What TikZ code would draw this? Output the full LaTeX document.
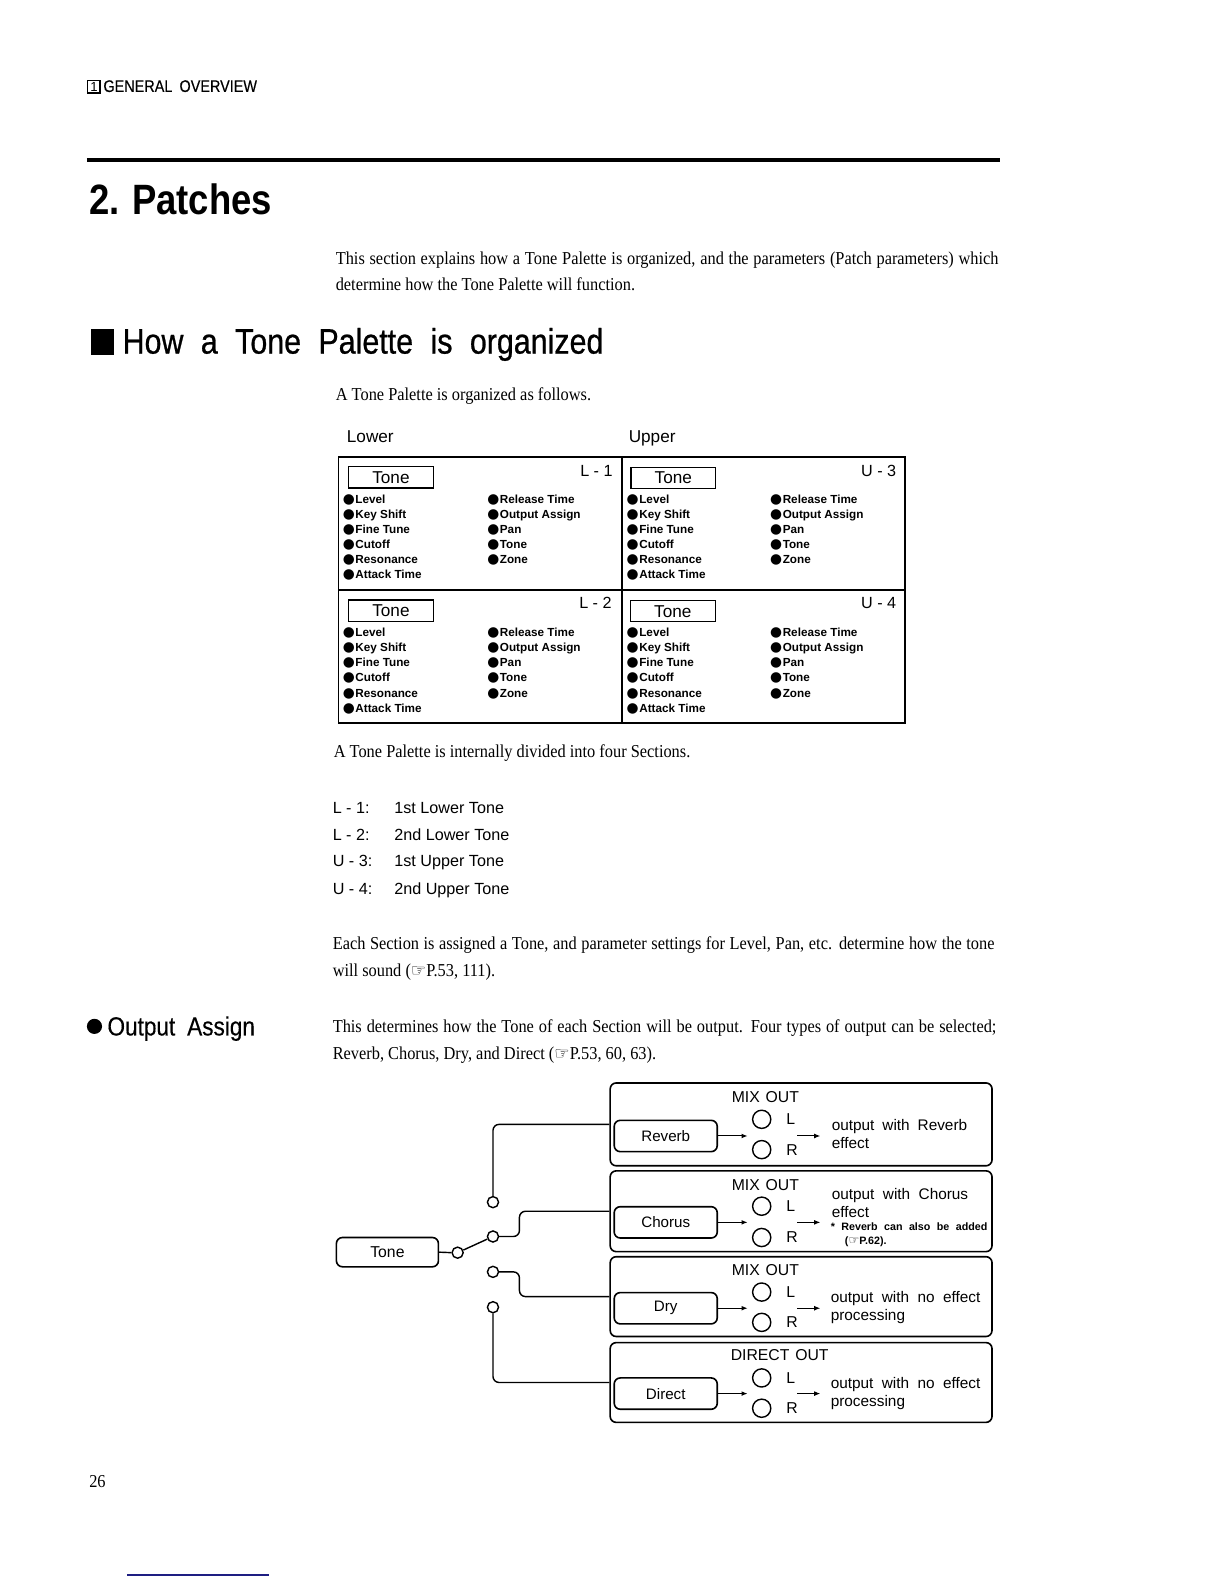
\documentclass[tikz,border=0pt]{standalone}
\usepackage{fontspec}
\setmainfont{Liberation Serif}[FakeStretch=0.9]
\newfontfamily\hel{Liberation Sans}
\newfontfamily\helc{Liberation Sans}[FakeStretch=0.86]
\newfontfamily\helm{Liberation Sans}[FakeStretch=0.86,FakeBold=0.7]
\newfontfamily\helo{Liberation Sans}[FakeStretch=0.86,FakeBold=0.3]
\newfontfamily\djv{DejaVu Sans}
\usetikzlibrary{arrows.meta}
\definecolor{navyline}{RGB}{30,30,130}
\newcommand\fitw[2]{\makebox[\dimexpr #1pt/2\relax][s]{#2}}
\newcommand\bul{{\djv\fontsize{6.8}{7}\selectfont ●}\kern0.3pt}
\newcommand\hand{{\djv\fontsize{8.5}{9}\selectfont ☞}}
\begin{document}
\begin{tikzpicture}[x=0.5pt,y=-0.5pt,
  txt/.style={inner sep=0pt,anchor=base west},
  body/.style={txt,font=\fontsize{9}{11}\selectfont},
  sans/.style={txt,font=\hel\fontsize{8}{10}\selectfont},
  item/.style={txt,font=\hel\bfseries\fontsize{5.8}{7}\selectfont},
  gbox/.style={draw,line width=0.7pt,minimum width=42pt,minimum height=10.5pt,inner sep=0pt,font=\hel\fontsize{8.5}{10}\selectfont},
  outbox/.style={draw,line width=0.8pt,rounded corners=3pt,minimum width=189pt,inner sep=0pt},
  inbox/.style={draw,line width=0.8pt,rounded corners=3pt,minimum width=51pt,minimum height=15.5pt,inner sep=0pt,font=\hel\fontsize{7.5}{9}\selectfont},
  jack/.style={draw,circle,line width=0.7pt,minimum size=9pt,inner sep=0pt},
  contact/.style={draw,circle,line width=0.7pt,minimum size=5.5pt,inner sep=0pt,fill=white},
  wire/.style={line width=0.7pt,rounded corners=3pt},
  sig/.style={line width=0.5pt,-{Latex[length=3pt,width=2.4pt]}},
  small/.style={txt,font=\hel\fontsize{7.6}{9}\selectfont},
]
\useasboundingbox (0,0) rectangle (1212,1568);

% header
\node[draw,line width=0.6pt,minimum size=6pt,inner sep=0pt,font=\hel\fontsize{6.5}{7}\selectfont] (hbox) at (93,86) {1};
\node[txt,font=\helo\fontsize{8.3}{10}\selectfont] (hdr) at (102,91) {\fitw{152}{GENERAL \ OVERVIEW}};
\draw[line width=2pt] (86,158) -- (990,158);

% titles
\node[txt,font=\helc\bfseries\fontsize{21}{24}\selectfont] (title) at (88,212) {\fitw{178}{2. Patches}};
\node[body] (p1a) at (332,262) {\fitw{656}{This section explains how a Tone Palette is organized, and the parameters (Patch parameters) which}};
\node[body] (p1b) at (332,288) {determine how the Tone Palette will function.};
\fill (90,326) rectangle (113,351);
\node[txt,font=\helm\fontsize{17.5}{20}\selectfont] (h2) at (121,350) {\fitw{476}{How a Tone Palette is organized}};
\node[body] (p2) at (332,396) {A Tone Palette is organized as follows.};

% tone palette grid
\node[txt,font=\hel\fontsize{8.5}{10}\selectfont] (lower) at (343,438) {Lower};
\node[txt,font=\hel\fontsize{8.5}{10}\selectfont] (upper) at (622,438) {Upper};
\draw[line width=0.9pt] (335,452) rectangle (896,716);
\draw[line width=0.8pt] (616,452) -- (616,716);
\draw[line width=0.8pt] (335,584) -- (896,584);

\node[gbox] (tL1) at (387,472.5) {Tone};
\node[gbox] (tU3) at (666.5,473) {Tone};
\node[gbox] (tL2) at (387,604.5) {Tone};
\node[gbox] (tU4) at (666,605) {Tone};
\node[txt,anchor=west,font=\hel\fontsize{8}{10}\selectfont] (nL1) at (574,466) {L - 1};
\node[txt,anchor=west,font=\hel\fontsize{8}{10}\selectfont] (nU3) at (852,466) {U - 3};
\node[txt,anchor=west,font=\hel\fontsize{8}{10}\selectfont] (nL2) at (573,597) {L - 2};
\node[txt,anchor=west,font=\hel\fontsize{8}{10}\selectfont] (nU4) at (852,597) {U - 4};

\foreach \s/\xl/\xr/\yt in {L1/339/482/495, U3/620/762/495, L2/339/482/627, U4/620/762/627}{
  \foreach \t [count=\i] in {Level,Key Shift,Fine Tune,Cutoff,Resonance,Attack Time}
    \node[item] (\s-l\i) at (\xl,\yt+15*\i-12) {\bul\t};
  \foreach \t [count=\i] in {Release Time,Output Assign,Pan,Tone,Zone}
    \node[item] (\s-r\i) at (\xr,\yt+15*\i-12) {\bul\t};
}

\node[body] (p3) at (330,750) {A Tone Palette is internally divided into four Sections.};

% list
\foreach \a/\b/\yy [count=\i] in {L - 1:/1st Lower Tone/805, L - 2:/2nd Lower Tone/832, U - 3:/1st Upper Tone/858, U - 4:/2nd Upper Tone/885}{
  \node[sans] (la\i) at (329,\yy) {\a};
  \node[sans] (lb\i) at (390,\yy) {\b};
}

\node[body] (p4a) at (329,940) {\fitw{655}{Each Section is assigned a Tone, and parameter settings for Level, Pan, etc. determine how the tone}};
\node[body] (p4b) at (329,967) {will sound (\hand P.53, 111).};

% output assign
\fill (93.5,1016) circle (7.5);
\node[txt,font=\helo\fontsize{13}{15}\selectfont] (oa) at (106,1025) {\fitw{146}{Output Assign}};
\node[body] (p5a) at (329,1022) {\fitw{657}{This determines how the Tone of each Section will be output. Four types of output can be selected;}};
\node[body] (p5b) at (329,1049) {Reverb, Chorus, Dry, and Direct (\hand P.53, 60, 63).};

% output boxes
\node[outbox,minimum height=41pt] (ob1) at (793,1113) {};
\node[outbox,minimum height=40pt] (ob2) at (793,1199) {};
\node[outbox,minimum height=39.5pt] (ob3) at (793,1283.5) {};
\node[outbox,minimum height=39.5pt] (ob4) at (793,1368.5) {};

\foreach \n/\tt in {1/1072, 2/1159, 3/1244}{
  \node[txt,font=\hel\fontsize{7.8}{9}\selectfont] (mix\n) at (724,\tt+19) {\fitw{66}{MIX \ OUT}};
}
\node[txt,font=\hel\fontsize{7.8}{9}\selectfont] (mix4) at (723,1346.5) {\fitw{89}{DIRECT \ OUT}};

\foreach \n/\lab/\yc/\yl/\yr in {1/Reverb/1124.5/1108/1138, 2/Chorus/1210/1194/1225, 3/Dry/1295/1279/1309, 4/Direct/1379.5/1364/1394}{
  \node[inbox] (ib\n) at (659,\yc) {\lab};
  \node[jack] (jl\n) at (754,\yl) {};
  \node[jack] (jr\n) at (754,\yr) {};
  \node[inner sep=0pt,anchor=west,font=\hel\fontsize{7.8}{9}\selectfont] (ll\n) at (778,\yl) {L};
  \node[inner sep=0pt,anchor=west,font=\hel\fontsize{7.8}{9}\selectfont] (rl\n) at (778,\yr) {R};
  \coordinate (a\n) at (740,\yc);
  \coordinate (bs\n) at (789,\yc);
  \coordinate (be\n) at (812,\yc);
  \draw[sig] (ib\n.east) -- (a\n);
  \draw[sig] (bs\n) -- (be\n);
}

\node[small] (d1a) at (823,1119) {\fitw{134}{output with Reverb}};
\node[small] (d1b) at (823,1137) {effect};
\node[small] (d2a) at (823,1187.5) {\fitw{135}{output with Chorus}};
\node[small] (d2b) at (823,1205.5) {effect};
\node[txt,font=\hel\bfseries\fontsize{5.3}{6}\selectfont] (d2c) at (822,1218) {\fitw{155}{* Reverb can also be added}};
\node[txt,font=\hel\bfseries\fontsize{5.3}{6}\selectfont] (d2d) at (836,1232) {({\djv\fontsize{6}{6}\selectfont ☞}P.62).};
\node[small] (d3a) at (822,1289.5) {\fitw{148}{output with no effect}};
\node[small] (d3b) at (822,1307.5) {processing};
\node[small] (d4a) at (822,1374.5) {\fitw{148}{output with no effect}};
\node[small] (d4b) at (822,1392.5) {processing};

% switch
\node[draw,line width=0.8pt,rounded corners=3pt,minimum width=50.5pt,minimum height=14.5pt,inner sep=0pt,font=\hel\fontsize{7.8}{9}\selectfont] (tone) at (383.5,1239.5) {Tone};
\node[contact] (pv) at (453,1240) {};
\node[contact] (c1) at (488,1190) {};
\node[contact] (c2) at (488,1224) {};
\node[contact] (c3) at (488,1259) {};
\node[contact] (c4) at (488,1294) {};
\draw[wire] (tone.east) -- (pv.west);
\draw[wire] (pv) -- (c2);
\draw[wire] (c1.north) |- (ob1.west);
\draw[wire] (c2.east) -- ++(20,0) |- (ob2.west);
\draw[wire] (c3.east) -- ++(20,0) |- (ob3.west);
\draw[wire] (c4.south) |- (ob4.west);

% page number
\node[txt,font=\fontsize{9}{11}\selectfont] (pg) at (88,1472) {26};
\draw[navyline,line width=0.6pt] (126,1559) -- (266,1559);
\end{tikzpicture}
\end{document}
